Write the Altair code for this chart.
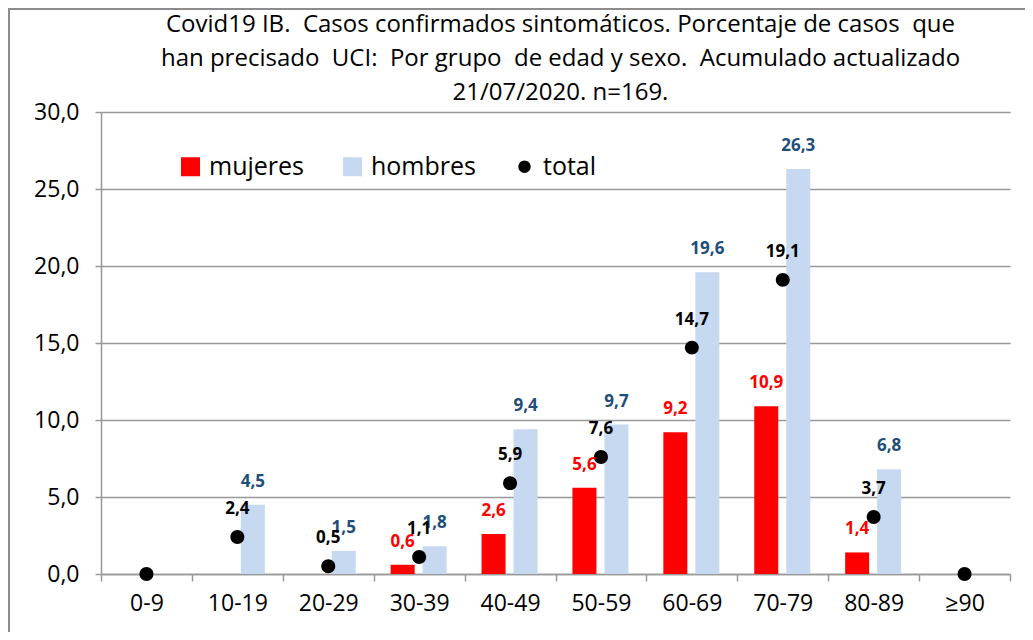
import altair as alt
import pandas as pd

grupos = ["0-9", "10-19", "20-29", "30-39", "40-49", "50-59", "60-69", "70-79", "80-89", "≥90"]
mujeres = [0, 0, 0, 0.6, 2.6, 5.6, 9.2, 10.9, 1.4, 0]
hombres = [0, 4.5, 1.5, 1.8, 9.4, 9.7, 19.6, 26.3, 6.8, 0]
total = [0, 2.4, 0.5, 1.1, 5.9, 7.6, 14.7, 19.1, 3.7, 0]
series = ["mujeres", "hombres", "total"]
colores = ["#ff0000", "#c6d9f1", "#000000"]
y_ticks = [0, 5, 10, 15, 20, 25, 30]
titulo = [
    "Covid19 IB. \u00a0Casos confirmados sintomáticos. Porcentaje de casos \u00a0que",
    "han precisado \u00a0UCI: \u00a0Por grupo \u00a0de edad y sexo. \u00a0Acumulado actualizado",
    "21/07/2020. n=169.",
]

rows = []
for s, vals in zip(series, [mujeres, hombres, total]):
    for g, v in zip(grupos, vals):
        rows.append({"grupo": g, "serie": s, "valor": v,
                     "etiqueta": f"{v:.1f}".replace(".", ",")})
df = pd.DataFrame(rows)

W, H = 909, 462
FONT = "Open Sans"
GRID = "#999999"

x_enc = alt.X("grupo:N", sort=grupos,
              scale=alt.Scale(paddingInner=0, paddingOuter=0),
              axis=alt.Axis(title=None, labelAngle=0, tickBand="extent",
                            labelFontSize=23, labelColor="black", labelPadding=11,
                            tickSize=7, tickColor=GRID, tickWidth=1.5,
                            domainColor=GRID, domainWidth=1.5, grid=False))
y_enc = alt.Y("valor:Q", scale=alt.Scale(domain=[0, 30], nice=False),
              axis=alt.Axis(title=None, values=y_ticks,
                            labelExpr="replace(format(datum.value, '.1f'), '.', ',')",
                            labelFontSize=23, labelColor="black", labelPadding=16,
                            tickSize=6, tickColor=GRID, tickWidth=1.5,
                            domainColor=GRID, domainWidth=1.5,
                            grid=True, gridColor=GRID, gridWidth=1.5))

circle_path = "M -0.65 0 A 0.65 0.65 0 1 0 0.65 0 A 0.65 0.65 0 1 0 -0.65 0 Z"
square_path = "M -1 -1 L 1 -1 L 1 1 L -1 1 Z"

color_scale = alt.Scale(domain=series, range=colores)
legend = alt.Legend(title=None, orient="none", legendX=77, legendY=42,
                    direction="horizontal", labelFontSize=25, labelColor="black",
                    symbolSize=361, symbolStrokeWidth=0, labelOffset=6,
                    columnPadding=36, symbolOpacity=1)
color_enc = alt.Color("serie:N", scale=color_scale, legend=legend)

base = alt.Chart(df)

bars_m = base.transform_filter("datum.serie == 'mujeres'").mark_bar(
    width=24, xOffset=-16.5).encode(x=x_enc, y=y_enc, color=color_enc)
bars_h = base.transform_filter("datum.serie == 'hombres'").mark_bar(
    width=24, xOffset=15.5).encode(x=x_enc, y=y_enc, color=color_enc)
points = base.transform_filter("datum.serie == 'total'").mark_point(
    filled=True, size=460, opacity=1).encode(
    x=x_enc, y=y_enc, color=color_enc,
    shape=alt.Shape("serie:N", scale=alt.Scale(domain=series,
                                                range=[square_path, square_path, circle_path]),
                    legend=legend))

txt_m = base.transform_filter("datum.serie == 'mujeres' && datum.valor > 0").mark_text(
    xOffset=-16.5, dy=-23, fontSize=17, fontWeight="bold", color="#ff0000").encode(
    x=x_enc, y=y_enc, text="etiqueta:N")
txt_h = base.transform_filter("datum.serie == 'hombres' && datum.valor > 0").mark_text(
    xOffset=15.5, dy=-23, fontSize=17, fontWeight="bold", color="#1f4e79").encode(
    x=x_enc, y=y_enc, text="etiqueta:N")
txt_t = base.transform_filter("datum.serie == 'total' && datum.valor > 0").mark_text(
    dy=-28, fontSize=17, fontWeight="bold", color="#000000").encode(
    x=x_enc, y=y_enc, text="etiqueta:N")

frame = alt.Chart(pd.DataFrame({"a": [0]})).mark_rect(
    fill="transparent", stroke="#8c8c8c", strokeWidth=2).encode(
    x=alt.value(-92), x2=alt.value(W + 60), y=alt.value(-103), y2=alt.value(H + 80))

chart = alt.layer(frame, bars_m, bars_h, points, txt_m, txt_h, txt_t).properties(
    width=W, height=H,
    autosize=alt.AutoSizeParams(type="none"),
    padding={"left": 93, "top": 104, "right": 15, "bottom": 58},
    title=alt.TitleParams(text=titulo, fontSize=24, fontWeight="normal",
                          lineHeight=34, offset=12, anchor="middle", dx=5, dy=109,
                          frame="group", color="black", font=FONT),
).configure(font=FONT).configure_view(stroke=None)

chart.save("out.html", embed_options={"renderer": "svg", "actions": False})
